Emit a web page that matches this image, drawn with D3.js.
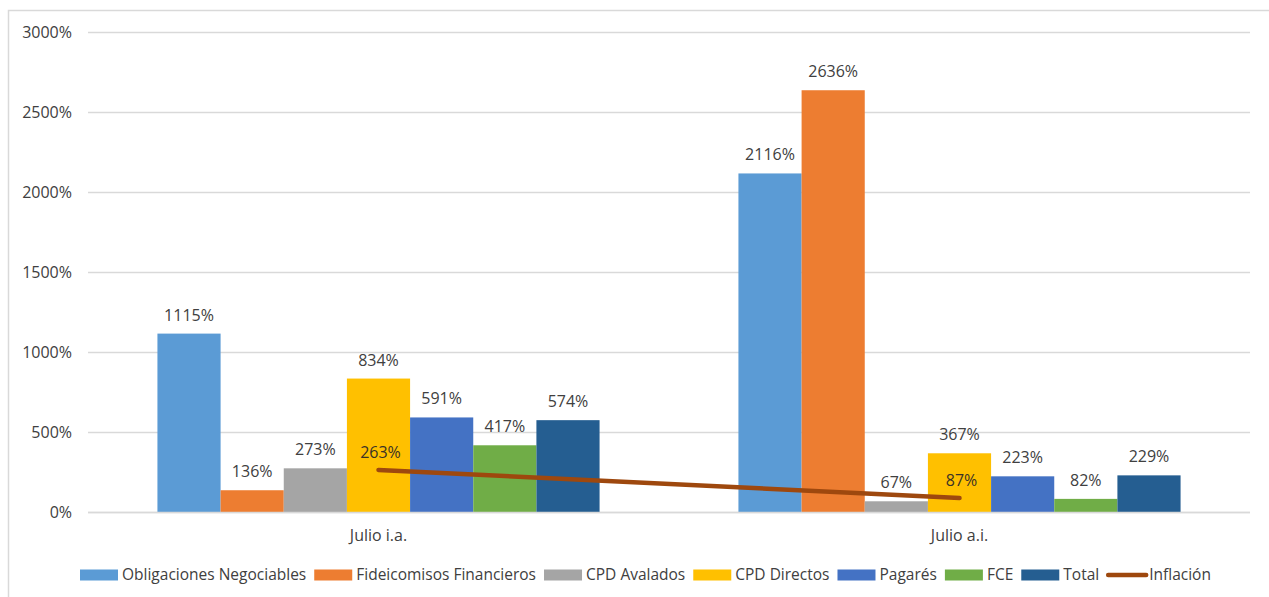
<!DOCTYPE html>
<html>
<head>
<meta charset="utf-8">
<script src="https://cdn.jsdelivr.net/npm/d3@7"></script>
<style>
  body { margin: 0; background: #fff; }
  svg { display: block; font-family: "Open Sans", sans-serif; }
</style>
</head>
<body>
<svg id="chart" width="1269" height="597"></svg>
<script>
const categories = ["Julio i.a.", "Julio a.i."];
const seriesNames = ["Obligaciones Negociables", "Fideicomisos Financieros", "CPD Avalados", "CPD Directos", "Pagarés", "FCE", "Total"];
const seriesColors = ["#5B9BD5", "#ED7D31", "#A5A5A5", "#FFC000", "#4472C4", "#70AD47", "#255E91"];
const obligaciones = [1115, 2116];
const fideicomisos = [136, 2636];
const cpdAvalados = [273, 67];
const cpdDirectos = [834, 367];
const pagares = [591, 223];
const fce = [417, 82];
const total = [574, 229];
const inflacion = [263, 87];
const inflacionName = "Inflación";
const inflacionColor = "#9E480E";
const yTicks = [0, 500, 1000, 1500, 2000, 2500, 3000];

const seriesValues = [obligaciones, fideicomisos, cpdAvalados, cpdDirectos, pagares, fce, total];

const svg = d3.select("#chart");
const fontSize = 16;
const legendFont = 15.5;
const textColor = "#404040";

// outer border
svg.append("rect").attr("x", 8.5).attr("y", 10.5).attr("width", 1270).attr("height", 600)
  .attr("fill", "none").attr("stroke", "#d9d9d9").attr("stroke-width", 1.5);

const plot = { left: 88, right: 1250, top: 32, bottom: 512 };

const x0 = d3.scaleBand().domain(categories).range([plot.left, plot.right]).padding(0);
const groupW = x0.bandwidth() * 0.761;
const x1 = d3.scaleBand().domain(seriesNames)
  .range([(x0.bandwidth() - groupW) / 2, (x0.bandwidth() + groupW) / 2]).padding(0);
const y = d3.scaleLinear().domain([0, 3000]).range([plot.bottom, plot.top]);

// gridlines + y labels
const yAxis = d3.axisLeft(y).tickValues(yTicks).tickFormat(d => d + "%").tickSize(-(plot.right - plot.left)).tickPadding(16);
const gy = svg.append("g").attr("transform", `translate(${plot.left},0)`).call(yAxis);
gy.select(".domain").remove();
gy.selectAll(".tick line").attr("stroke", "#d9d9d9").attr("stroke-width", 1.3);
gy.selectAll(".tick text").attr("fill", textColor).style("font-size", fontSize + "px").style("font-family", "Open Sans, sans-serif");

// bars
const groups = svg.append("g").selectAll("g").data(categories).join("g")
  .attr("transform", d => `translate(${x0(d)},0)`);
groups.each(function(cat, ci) {
  const g = d3.select(this);
  seriesNames.forEach((s, si) => {
    const v = seriesValues[si][ci];
    g.append("rect").attr("x", x1(s)).attr("y", y(v)).attr("width", x1.bandwidth()).attr("height", y(0) - y(v))
      .attr("fill", seriesColors[si]);
    g.append("text").attr("x", x1(s) + x1.bandwidth() / 2).attr("y", y(v) - 13)
      .attr("text-anchor", "middle").attr("fill", textColor).style("font-size", fontSize + "px").text(v + "%");
  });
});

// inflation line
const line = d3.line().x((d, i) => x0(categories[i]) + x0.bandwidth() / 2).y(d => y(d));
svg.append("path").datum(inflacion).attr("d", line).attr("fill", "none")
  .attr("stroke", inflacionColor).attr("stroke-width", 4.5).attr("stroke-linecap", "round");
svg.append("g").selectAll("text").data(inflacion).join("text")
  .attr("x", (d, i) => x0(categories[i]) + x0.bandwidth() / 2 + 2)
  .attr("y", d => y(d) - 12).attr("text-anchor", "middle").attr("fill", "#3a3226")
  .style("font-size", fontSize + "px").text(d => d + "%");

// x baseline
svg.append("line").attr("x1", plot.left).attr("x2", plot.right).attr("y1", y(0) + 0.5).attr("y2", y(0) + 0.5)
  .attr("stroke", "#d9d9d9").attr("stroke-width", 1.3);

// category labels
svg.append("g").selectAll("text").data(categories).join("text")
  .attr("x", d => x0(d) + x0.bandwidth() / 2).attr("y", 541).attr("text-anchor", "middle")
  .attr("fill", textColor).style("font-size", fontSize + "px").text(d => d);

// legend
const legend = svg.append("g");
const legendItems = seriesNames.map((s, i) => ({ name: s, color: seriesColors[i], type: "rect" }))
  .concat([{ name: inflacionName, color: inflacionColor, type: "line" }]);
let lx = 80;
const ly = 575;
legendItems.forEach(it => {
  if (it.type === "rect") {
    legend.append("rect").attr("x", lx).attr("y", ly - 5.5).attr("width", 38).attr("height", 11).attr("fill", it.color);
  } else {
    legend.append("line").attr("x1", lx + 1).attr("x2", lx + 39).attr("y1", ly).attr("y2", ly)
      .attr("stroke", it.color).attr("stroke-width", 4.5).attr("stroke-linecap", "round");
  }
  const t = legend.append("text").attr("x", lx + 42).attr("y", ly).attr("dy", "0.35em")
    .attr("fill", textColor).style("font-size", legendFont + "px").text(it.name);
  lx += 42 + t.node().getComputedTextLength() + 8;
});
</script>
</body>
</html>
